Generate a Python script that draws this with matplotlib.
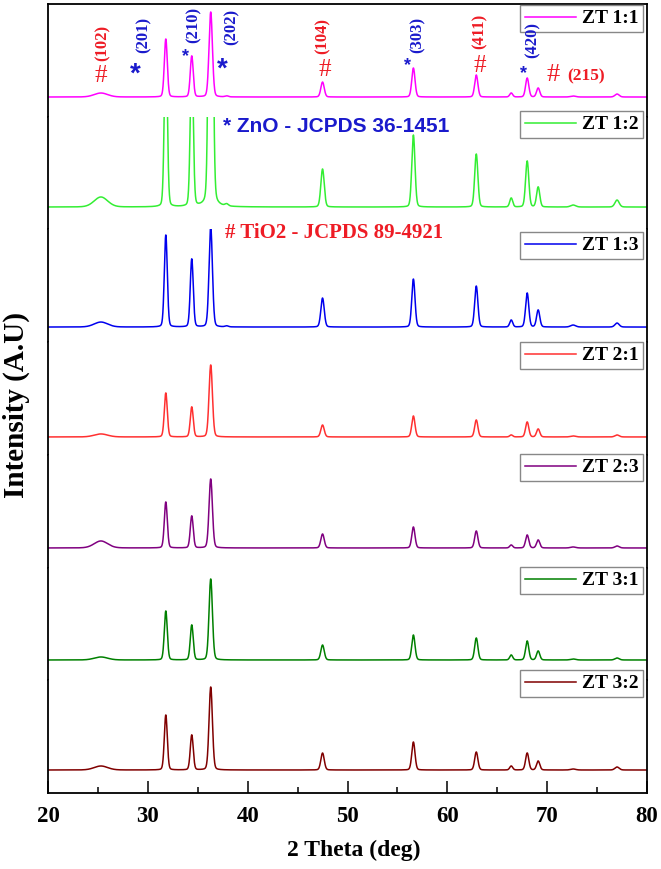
import numpy as np
import matplotlib
matplotlib.use('Agg')
import matplotlib.pyplot as plt

# XRD peaks (2 theta, deg) and their widths
peak_pos = [25.3, 31.8, 34.4, 36.3, 37.9, 47.5, 56.6, 62.9, 66.4, 68.0, 69.1, 72.6, 77.0]
peak_fwhm = [1.6, 0.35, 0.35, 0.4, 0.4, 0.4, 0.38, 0.38, 0.35, 0.38, 0.38, 0.6, 0.5]

samples = ['ZT 1:1', 'ZT 1:2', 'ZT 1:3', 'ZT 2:1', 'ZT 2:3', 'ZT 3:1', 'ZT 3:2']
zt11 = [4, 58, 41, 85, 1, 15, 29, 22, 4, 19, 9, 1, 3]
zt12 = [10, 170, 150, 600, 2, 38, 72, 53, 9, 46, 20, 2, 7]
zt13 = [5, 92, 68, 100, 1, 29, 48, 41, 7, 34, 17, 2, 4]
zt21 = [3, 44, 30, 72, 0, 12, 21, 17, 2, 15, 8, 1, 2]
zt23 = [7, 46, 32, 69, 0, 14, 21, 17, 3, 13, 8, 1, 2]
zt31 = [3, 49, 35, 81, 0, 15, 25, 22, 5, 19, 9, 1, 2]
zt32 = [4, 55, 35, 83, 0, 17, 28, 18, 4, 17, 9, 1, 3]
heights = [zt11, zt12, zt13, zt21, zt23, zt31, zt32]
colors = ['#FF00FF', '#33EE33', '#0000EE', '#FF3030', '#800080', '#008000', '#800000']

hkl = ['(102)', '(201)', '(210)', '(202)', '(104)', '(303)', '(411)', '(420)']
hkl_phase = ['#', '*', '*', '*', '#', '*', '#', '*']

# layout (reference pixels)
W, H = 661, 869
base_off = [19.7, 22.4, 15.1, 17.9, 19.6, 20.3, 23.0]
legend_top = [5, 111, 232, 342, 454, 567, 670]
hkl_xy = [(102.5, 61), (144, 53), (194, 43), (232, 45), (323, 54), (418, 53), (480, 49), (533, 58)]
sym_xy = [(101, 73), (135, 66), (186, 51), (222, 61), (325, 68), (408, 60), (480, 63), (524, 68)]
sym_size = [18, 20, 13, 20, 18, 13, 18, 13]

RED = '#EE1C25'
BLUE = '#1A1ACC'


def fx(px):
    return px / W


def fy(py):
    return 1 - py / H


plt.rcParams['font.family'] = ['Liberation Serif', 'DejaVu Serif']
plt.rcParams['font.weight'] = 'bold'

fig, axes = plt.subplots(7, 1, sharex=True, figsize=(6.61, 8.69), dpi=100)
fig.subplots_adjust(left=fx(48), right=fx(647), top=fy(4), bottom=fy(793), hspace=0)
panel_h = (793 - 4) / 7

x = np.linspace(20, 80, 4001)


def profile(hs):
    y = np.zeros_like(x)
    for c, h, w in zip(peak_pos, hs, peak_fwhm):
        g = np.exp(-4 * np.log(2) * ((x - c) / w) ** 2)
        lo = 1 / (1 + 4 * ((x - c) / w) ** 2)
        y += h * (0.85 * g + 0.15 * lo)
    return y


for i, ax in enumerate(axes):
    ax.plot(x, profile(heights[i]), color=colors[i], lw=1.1, label=samples[i])
    ax.set_ylim(-base_off[i], panel_h - base_off[i])
    ax.set_xlim(20, 80)
    ax.set_yticks([])
    for s in ax.spines.values():
        s.set_linewidth(1.3)
    ax.spines['top'].set_visible(i == 0)
    ax.spines['bottom'].set_visible(i == 6)
    ax.tick_params(axis='x', which='both', bottom=(i == 6), labelbottom=(i == 6))
    leg = ax.legend(loc='upper right', bbox_to_anchor=(fx(643), fy(legend_top[i])),
                    bbox_transform=fig.transFigure, borderaxespad=0, fancybox=False,
                    edgecolor='#888888', framealpha=1, fontsize=14, handlelength=2.6,
                    handletextpad=0.3, borderpad=0.25)
    leg.get_frame().set_linewidth(1.0)

axb = axes[-1]
axb.set_xticks(np.arange(20, 81, 10))
axb.set_xticks(np.arange(25, 80, 10), minor=True)
axb.tick_params(axis='x', which='major', direction='in', length=8.6, width=1.1,
                labelsize=16.5, pad=9)
axb.tick_params(axis='x', which='minor', direction='in', length=4.5, width=1.1)
axb.set_xlabel('2 Theta (deg)', fontsize=17, fontweight='bold')
axb.xaxis.set_label_coords((354 - 48) / 599, -(840 - 793) / panel_h)

fig.text(fx(16), fy(405), 'Intensity (A.U)', rotation=90, ha='center', va='center',
         fontsize=21, fontweight='bold')

# phase references
fig.text(fx(223), fy(132), '* ZnO - JCPDS 36-1451', ha='left', va='baseline',
         fontsize=15, fontweight='bold', color=BLUE, family='Liberation Sans')
fig.text(fx(225), fy(238), '# TiO2 - JCPDS 89-4921', ha='left', va='baseline',
         fontsize=15, fontweight='bold', color=RED)

# peak indexing on top pattern
for lab, ph, (hx, hy), (sx, sy), ss in zip(hkl, hkl_phase, hkl_xy, sym_xy, sym_size):
    col = RED if ph == '#' else BLUE
    fig.text(fx(hx), fy(hy), lab, rotation=90, ha='center', va='bottom',
             fontsize=12, fontweight='bold', color=col)
    em = ss * 100 / 72
    if ph == '#':
        fig.text(fx(sx), fy(sy + 0.34 * em), ph, ha='center', va='baseline',
                 fontsize=ss, fontweight='normal', color=col)
    else:
        fig.text(fx(sx), fy(sy + 0.57 * em), ph, ha='center', va='baseline',
                 fontsize=ss, fontweight='bold', color=col, family='Liberation Sans')

em = 19 * 100 / 72
fig.text(fx(553), fy(72 + 0.34 * em), '#', ha='center', va='baseline', fontsize=19,
         fontweight='normal', color=RED)
fig.text(fx(586), fy(76), '(215)', ha='center', va='center', fontsize=12.5,
         fontweight='bold', color=RED)

fig.savefig('out.png', dpi=100)
